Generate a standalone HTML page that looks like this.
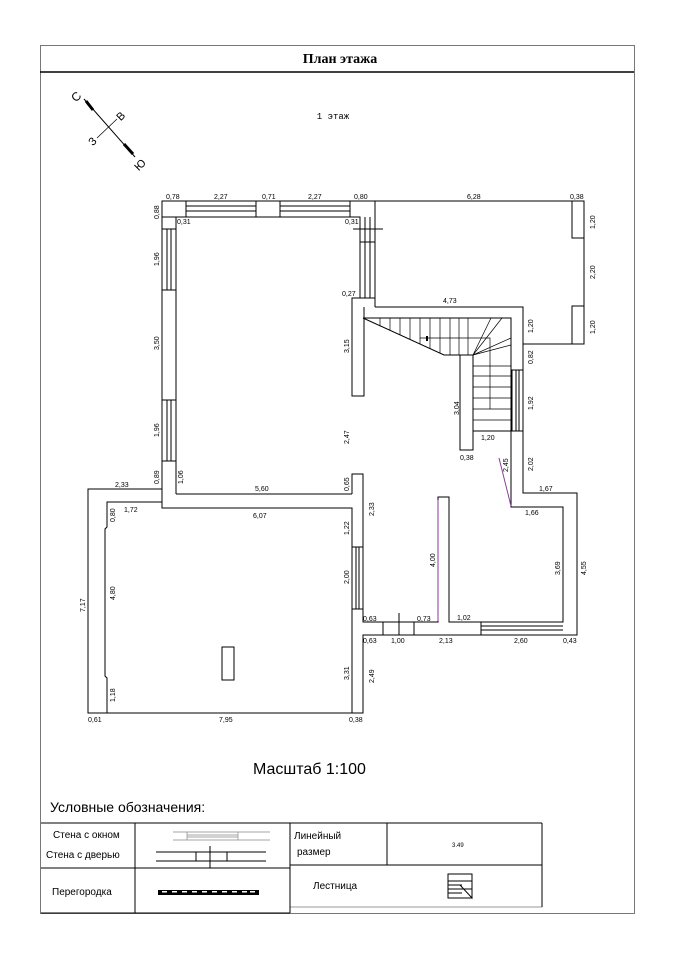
<!DOCTYPE html>
<html><head><meta charset="utf-8"><style>
html,body{margin:0;padding:0;background:#fff}
svg{display:block}
text{font-family:"Liberation Sans","DejaVu Sans",sans-serif;fill:#000}
.d{font-size:7px}
</style></head><body>
<svg width="679" height="960" viewBox="0 0 679 960" xmlns="http://www.w3.org/2000/svg">
<g fill="none" stroke="#000" stroke-width="1">
<rect x="40.5" y="45.5" width="594" height="868" stroke="#777"/>
<line x1="40" y1="72" x2="634" y2="72" stroke-width="1.5"/>
</g>
<text x="340" y="63" text-anchor="middle" style="font-family:'Liberation Serif',serif;font-weight:bold;font-size:14px">План этажа</text>
<text x="333" y="119" text-anchor="middle" style="font-size:9px;font-family:'Liberation Mono',monospace">1 этаж</text>
<!-- compass -->
<g stroke="#000">
<line x1="84" y1="99" x2="135" y2="157" stroke-width="1"/>
<line x1="86" y1="101" x2="93" y2="110" stroke-width="3"/>
<line x1="124" y1="144" x2="133" y2="154" stroke-width="3"/>
<line x1="97" y1="138" x2="117" y2="119" stroke-width="0.7"/>
</g>
<text x="72" y="101" style="font-size:12px" transform="rotate(-45 76 97)">С</text>
<text x="116" y="120" style="font-size:11px" transform="rotate(-45 120 115)">В</text>
<text x="88" y="145" style="font-size:11px" transform="rotate(-45 92 140)">З</text>
<text x="134" y="170" style="font-size:11px" transform="rotate(-45 138 165)">Ю</text>

<g fill="none" stroke="#000" stroke-width="1">
<!-- upper left room -->
<polyline points="162,494 162,201 584,201 584,344 523,344"/>
<polyline points="176,494 176,217 360,217 360,298 352,298 352,396 364,396 364,307"/>
<line x1="375" y1="201" x2="375" y2="307"/>
<polyline points="375,307 523,307 523,431"/>
<line x1="176" y1="494" x2="352" y2="494"/>
<!-- top windows -->
<rect x="186" y="201" width="70" height="16"/>
<rect x="280" y="201" width="70" height="16"/>
<line x1="186" y1="206" x2="256" y2="206"/><line x1="186" y1="211" x2="256" y2="211"/>
<line x1="280" y1="206" x2="350" y2="206"/><line x1="280" y1="211" x2="350" y2="211"/>
<line x1="256" y1="201" x2="256" y2="217"/><line x1="280" y1="201" x2="280" y2="217"/>
<line x1="162" y1="217" x2="176" y2="217"/>
<!-- left windows -->
<line x1="162" y1="229" x2="176" y2="229"/><line x1="162" y1="290" x2="176" y2="290"/>
<line x1="167" y1="229" x2="167" y2="290"/><line x1="171" y1="229" x2="171" y2="290"/>
<line x1="162" y1="400" x2="176" y2="400"/><line x1="162" y1="461" x2="176" y2="461"/>
<line x1="167" y1="400" x2="167" y2="461"/><line x1="171" y1="400" x2="171" y2="461"/>
<!-- right wall strip near corridor -->
<line x1="365" y1="217" x2="365" y2="298"/><line x1="370" y1="217" x2="370" y2="298"/>
<line x1="360" y1="298" x2="375" y2="298"/>
<line x1="360" y1="242" x2="375" y2="242"/>
<line x1="353" y1="229" x2="383" y2="229"/>
<!-- right room windows -->
<polyline points="584,201 572,201 572,238 584,238"/>
<polyline points="584,306 572,306 572,344"/>
<!-- stairs -->
<polyline points="363,318 511,318 511,431 473,431 473,355 444,355 363,318"/>
<rect x="460" y="355" width="13" height="95"/>
<g stroke-width="0.7">
<line x1="380" y1="318" x2="380" y2="326"/><line x1="390" y1="318" x2="390" y2="330"/>
<line x1="400" y1="318" x2="400" y2="335"/><line x1="410" y1="318" x2="410" y2="339"/>
<line x1="420" y1="318" x2="420" y2="344"/><line x1="430" y1="318" x2="430" y2="349"/>
<line x1="440" y1="318" x2="440" y2="353"/><line x1="450" y1="318" x2="450" y2="355"/>
<line x1="459" y1="318" x2="459" y2="355"/><line x1="468" y1="318" x2="468" y2="355"/>
<line x1="473" y1="355" x2="491" y2="318"/><line x1="473" y1="355" x2="502" y2="318"/>
<line x1="473" y1="355" x2="511" y2="338"/><line x1="473" y1="355" x2="511" y2="345"/>
<line x1="473" y1="366" x2="511" y2="366"/><line x1="473" y1="376" x2="511" y2="376"/>
<line x1="473" y1="387" x2="511" y2="387"/><line x1="473" y1="398" x2="511" y2="398"/>
<line x1="473" y1="409" x2="511" y2="409"/><line x1="473" y1="420" x2="511" y2="420"/>
<polyline points="420,338 490,338 490,409"/>
</g>
<line x1="427" y1="336" x2="427" y2="341" stroke-width="2"/>
<!-- stair window -->
<rect x="512" y="370" width="11" height="61"/>
<line x1="516" y1="370" x2="516" y2="431"/><line x1="519" y1="370" x2="519" y2="431"/>
<!-- right lower -->
<polyline points="523,431 523,493 577,493 577,635 363,635 363,713 88,713 88,489 162,489"/>
<polyline points="511,431 511,507 563,507 563,622 449,622 449,497 438,497 438,622 363,622 363,474 352,474 352,494"/>
<polyline points="162,494 162,508 352,508 352,713"/>
<polyline points="162,502 107,502 107,527 105,529 105,676 107,678 107,713"/>
<!-- door -->
<rect x="383" y="622" width="31" height="13"/>
<line x1="399" y1="613" x2="399" y2="635"/>
<!-- bottom window -->
<line x1="481" y1="622" x2="481" y2="635"/>
<line x1="481" y1="626" x2="563" y2="626"/><line x1="481" y1="630" x2="563" y2="630"/>
<!-- middle window -->
<rect x="352" y="547" width="11" height="62"/>
<line x1="356" y1="547" x2="356" y2="609"/><line x1="359" y1="547" x2="359" y2="609"/>
<rect x="222" y="647" width="12" height="33"/>
</g>
<g stroke="#8a3a9a" stroke-width="1">
<line x1="438" y1="500" x2="438" y2="621"/>
<line x1="499" y1="458" x2="511" y2="506"/>
</g>

<!-- dimension labels -->
<g class="d">
<text x="166" y="199">0,78</text><text x="214" y="199">2,27</text><text x="262" y="199">0,71</text><text x="308" y="199">2,27</text><text x="354" y="199">0,80</text>
<text x="467" y="199">6,28</text><text x="570" y="199">0,38</text>
<text x="177" y="224">0,31</text><text x="345" y="224">0,31</text>
<text x="342" y="296">0,27</text><text x="443" y="303">4,73</text>
<text x="481" y="440">1,20</text><text x="460" y="460">0,38</text>
<text x="255" y="491">5,60</text><text x="253" y="518">6,07</text>
<text x="115" y="487">2,33</text><text x="124" y="512">1,72</text>
<text x="539" y="491">1,67</text><text x="525" y="515">1,66</text>
<text x="363" y="621">0,63</text><text x="417" y="621">0,73</text><text x="457" y="620">1,02</text>
<text x="363" y="643">0,63</text><text x="391" y="643">1,00</text><text x="439" y="643">2,13</text><text x="514" y="643">2,60</text><text x="563" y="643">0,43</text>
<text x="88" y="722">0,61</text><text x="219" y="722">7,95</text><text x="349" y="722">0,38</text>
</g>
<g class="d">
<text transform="translate(159,219) rotate(-90)">0,88</text>
<text transform="translate(159,266) rotate(-90)">1,96</text>
<text transform="translate(159,350) rotate(-90)">3,50</text>
<text transform="translate(159,437) rotate(-90)">1,96</text>
<text transform="translate(159,484) rotate(-90)">0,89</text>
<text transform="translate(183,484) rotate(-90)">1,06</text>
<text transform="translate(349,353) rotate(-90)">3,15</text>
<text transform="translate(349,444) rotate(-90)">2,47</text>
<text transform="translate(349,491) rotate(-90)">0,65</text>
<text transform="translate(374,516) rotate(-90)">2,33</text>
<text transform="translate(349,535) rotate(-90)">1,22</text>
<text transform="translate(349,584) rotate(-90)">2,00</text>
<text transform="translate(349,680) rotate(-90)">3,31</text>
<text transform="translate(374,683) rotate(-90)">2,49</text>
<text transform="translate(115,702) rotate(-90)">1,18</text>
<text transform="translate(115,600) rotate(-90)">4,80</text>
<text transform="translate(115,522) rotate(-90)">0,80</text>
<text transform="translate(85,612) rotate(-90)">7,17</text>
<text transform="translate(459,415) rotate(-90)">3,04</text>
<text transform="translate(435,567) rotate(-90)">4,00</text>
<text transform="translate(508,472) rotate(-90)">2,45</text>
<text transform="translate(533,471) rotate(-90)">2,02</text>
<text transform="translate(533,410) rotate(-90)">1,92</text>
<text transform="translate(533,364) rotate(-90)">0,82</text>
<text transform="translate(533,333) rotate(-90)">1,20</text>
<text transform="translate(595,229) rotate(-90)">1,20</text>
<text transform="translate(595,279) rotate(-90)">2,20</text>
<text transform="translate(595,334) rotate(-90)">1,20</text>
<text transform="translate(560,575) rotate(-90)">3,69</text>
<text transform="translate(586,575) rotate(-90)">4,55</text>
</g>

<text x="253" y="774" style="font-size:16px">Масштаб 1:100</text>
<text x="50" y="812" style="font-size:14px">Условные обозначения:</text>
<!-- legend -->
<g fill="none" stroke="#000" stroke-width="1">
<line x1="41" y1="823" x2="542" y2="823"/>
<line x1="41" y1="868" x2="290" y2="868"/>
<line x1="290" y1="865" x2="542" y2="865"/>
<line x1="41" y1="913" x2="290" y2="913"/>
<line x1="290" y1="907" x2="542" y2="907" stroke="#999"/>
<line x1="135" y1="823" x2="135" y2="913"/>
<line x1="290" y1="823" x2="290" y2="913"/>
<line x1="387" y1="823" x2="387" y2="865"/>
<line x1="542" y1="823" x2="542" y2="907"/>
<g stroke="#888" stroke-width="0.7">
<line x1="173" y1="832" x2="270" y2="832"/><line x1="173" y1="840" x2="270" y2="840"/>
<line x1="187" y1="835" x2="238" y2="835"/><line x1="187" y1="837" x2="238" y2="837"/>
<line x1="187" y1="832" x2="187" y2="840"/><line x1="238" y1="832" x2="238" y2="840"/>
</g>
<line x1="156" y1="852" x2="266" y2="852"/><line x1="156" y1="861" x2="266" y2="861"/>
<rect x="196" y="852" width="31" height="9"/>
<line x1="210" y1="846" x2="210" y2="868"/>
<rect x="448" y="874" width="24" height="24"/>
<line x1="448" y1="881" x2="462" y2="881"/><line x1="448" y1="885" x2="462" y2="885"/><line x1="448" y1="889" x2="472" y2="889"/><line x1="448" y1="893" x2="462" y2="893"/>
<polyline points="460,881 472,881 472,898 460,885"/>
</g>
<rect x="158" y="890" width="101" height="5" fill="#000"/>
<g fill="#fff"><rect x="162" y="891" width="5" height="1.5"/><rect x="172" y="891" width="5" height="1.5"/><rect x="182" y="891" width="5" height="1.5"/><rect x="192" y="891" width="5" height="1.5"/><rect x="202" y="891" width="5" height="1.5"/><rect x="212" y="891" width="5" height="1.5"/><rect x="222" y="891" width="5" height="1.5"/><rect x="232" y="891" width="5" height="1.5"/><rect x="242" y="891" width="5" height="1.5"/><rect x="250" y="891" width="5" height="1.5"/></g>
<g style="font-size:10px">
<text x="53" y="838">Стена с окном</text>
<text x="46" y="858">Стена с дверью</text>
<text x="52" y="895">Перегородка</text>
<text x="294" y="839">Линейный</text>
<text x="297" y="855">размер</text>
<text x="313" y="889">Лестница</text>
</g>
<text x="452" y="847" style="font-size:6px">3.49</text>
</svg>
</body></html>
